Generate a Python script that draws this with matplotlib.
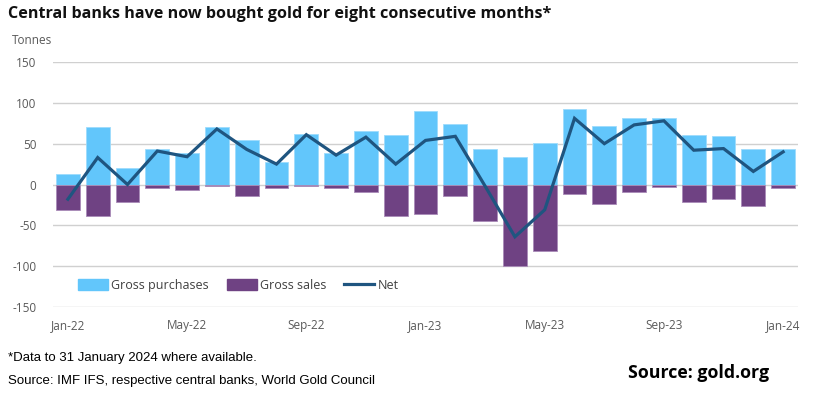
import matplotlib.pyplot as plt
from matplotlib.lines import Line2D
from matplotlib.patches import Patch
import numpy as np

months = ['Jan-22', 'Feb-22', 'Mar-22', 'Apr-22', 'May-22', 'Jun-22', 'Jul-22', 'Aug-22',
          'Sep-22', 'Oct-22', 'Nov-22', 'Dec-22', 'Jan-23', 'Feb-23', 'Mar-23', 'Apr-23',
          'May-23', 'Jun-23', 'Jul-23', 'Aug-23', 'Sep-23', 'Oct-23', 'Nov-23', 'Dec-23',
          'Jan-24']
gross_purchases = [13, 71, 20, 43, 39, 70, 54, 28, 62, 39, 66, 61, 90, 74, 43, 34,
                   51, 92, 72, 82, 81, 61, 60, 43, 43]
gross_sales = [-31, -38, -21, -4, -7, -2, -14, -4, -2, -4, -9, -38, -36, -14, -45, -100,
               -82, -12, -24, -9, -3, -21, -18, -26, -4]
net = [-18, 33, 0, 41, 34, 68, 43, 25, 61, 36, 58, 25, 54, 59, -2, -64,
       -31, 81, 50, 73, 78, 42, 44, 16, 40]
tick_labels = ['Jan-22', 'May-22', 'Sep-22', 'Jan-23', 'May-23', 'Sep-23', 'Jan-24']

c_buy = '#62C6FB'
c_sell = '#6F4283'
c_net = '#1F5580'
txt = '#595959'

fig = plt.figure(figsize=(8.19, 3.95), dpi=100)
ax = fig.add_axes([0.0647, 0.2228, 0.9097, 0.6202])

x = np.arange(len(months))
ax.bar(x, gross_purchases, width=0.8, color=c_buy, edgecolor='#9ddcfc', linewidth=0.6, zorder=2)
ax.bar(x, gross_sales, width=0.8, color=c_sell, edgecolor='#a98bb8', linewidth=0.6, zorder=2)
ax.plot(x, net, color=c_net, lw=2.3, zorder=3, solid_joinstyle='miter')

ax.set_xlim(-0.5, 24.5)
ax.set_ylim(-150, 150)
ax.set_yticks(range(-150, 151, 50))
ax.set_yticklabels([str(v) for v in range(-150, 151, 50)], family='Open Sans', fontsize=8.5, color=txt)
ax.set_xticks([months.index(m) for m in tick_labels])
ax.set_xticklabels(tick_labels, family='Open Sans', fontsize=8.5, color=txt)
ax.tick_params(length=0, pad=12, axis='y')
ax.tick_params(length=0, pad=9, axis='x')
ax.yaxis.grid(True, color='#d0d0d0', lw=1, zorder=0)
ax.set_axisbelow(True)
for s in ax.spines.values():
    s.set_visible(False)

handles = [Patch(color=c_buy), Patch(color=c_sell), Line2D([], [], color=c_net, lw=2.3)]
ax.legend(handles, ['Gross purchases', 'Gross sales', 'Net'], loc='lower left',
          bbox_to_anchor=(0.018, 0.016), ncol=3, frameon=False, handlelength=2.4,
          handleheight=1.0, handletextpad=0.3, columnspacing=1.4,
          prop={'family': 'Open Sans', 'size': 9}, labelcolor='#404040')

fig.text(0.01, 0.965, 'Central banks have now bought gold for eight consecutive months*',
         family='Open Sans', weight='bold', fontsize=11.6, va='center', color='#111111')
fig.text(0.015, 0.898, 'Tonnes', family='Open Sans', fontsize=8.5, va='center', color=txt)
fig.text(0.01, 0.094, '*Data to 31 January 2024 where available.',
         family='Liberation Sans', fontsize=9.5, va='center', color='black')
fig.text(0.01, 0.036, 'Source: IMF IFS, respective central banks, World Gold Council',
         family='Liberation Sans', fontsize=9.5, va='center', color='black')
fig.text(0.767, 0.055, 'Source: gold.org', family='Open Sans', weight='bold',
         fontsize=12.8, va='center', color='black')

fig.savefig('out.png', dpi=100)
